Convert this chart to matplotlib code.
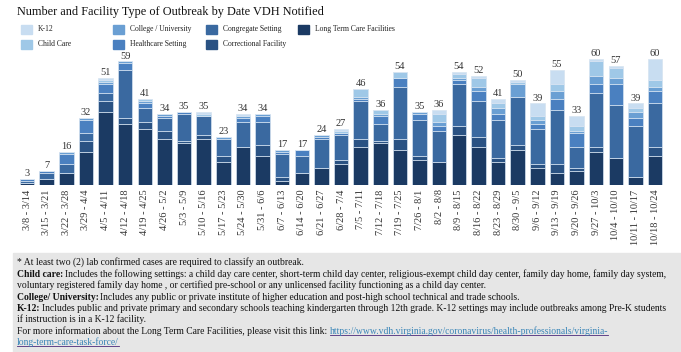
import matplotlib
import numpy as np
from matplotlib import pyplot as plt
from matplotlib.patches import Rectangle
from matplotlib.lines import Line2D

matplotlib.use("Agg")

plt.rcParams["font.family"] = ["Liberation Serif", "DejaVu Serif"]

weeks = [
    "3/8 - 3/14", "3/15 - 3/21", "3/22 - 3/28", "3/29 - 4/4", "4/5 - 4/11",
    "4/12 - 4/18", "4/19 - 4/25", "4/26 - 5/2", "5/3 - 5/9", "5/10 - 5/16",
    "5/17 - 5/23", "5/24 - 5/30", "5/31 - 6/6", "6/7 - 6/13", "6/14 - 6/20",
    "6/21 - 6/27", "6/28 - 7/4", "7/5 - 7/11", "7/12 - 7/18", "7/19 - 7/25",
    "7/26 - 8/1", "8/2 - 8/8", "8/9 - 8/15", "8/16 - 8/22", "8/23 - 8/29",
    "8/30 - 9/5", "9/6 - 9/12", "9/13 - 9/19", "9/20 - 9/26", "9/27 - 10/3",
    "10/4 - 10/10", "10/11 - 10/17", "10/18 - 10/24",
]

# stacked bottom -> top
long_term_care = [1, 3, 6, 16, 35, 29, 27, 22, 20, 22, 11, 18, 14, 2, 6, 8, 10, 18, 20, 17, 12, 11, 24, 18, 11, 17, 8, 6, 7, 16, 13, 4, 14]
correctional = [0, 0, 0, 5, 5, 3, 3, 4, 1, 2, 3, 0, 5, 2, 0, 0, 2, 4, 1, 5, 2, 0, 4, 5, 2, 2, 2, 4, 1, 2, 0, 0, 4]
congregate = [1, 3, 4, 4, 4, 23, 7, 6, 13, 9, 8, 12, 11, 11, 8, 14, 12, 18, 8, 25, 17, 15, 20, 17, 18, 23, 17, 26, 10, 26, 25, 24, 21]
healthcare = [1, 1, 5, 6, 4, 3, 2, 1, 1, 0, 0, 2, 3, 1, 3, 1, 1, 1, 4, 4, 3, 2, 2, 5, 3, 0, 2, 5, 7, 4, 10, 4, 6]
college = [0, 0, 1, 1, 1, 1, 1, 1, 0, 0, 1, 1, 1, 1, 0, 1, 0, 1, 1, 0, 1, 2, 1, 2, 3, 6, 2, 4, 1, 4, 3, 3, 2]
child_care = [0, 0, 0, 0, 1, 0, 1, 0, 0, 1, 0, 0, 0, 0, 0, 0, 1, 4, 2, 3, 0, 4, 2, 4, 2, 1, 2, 3, 2, 7, 5, 2, 3]
k12 = [0, 0, 0, 0, 1, 0, 0, 0, 0, 1, 0, 1, 0, 0, 0, 0, 1, 0, 0, 0, 0, 2, 1, 1, 2, 1, 6, 7, 5, 1, 1, 2, 10]

series = [
    ("Long Term Care Facilities", long_term_care, "#1b3a63"),
    ("Correctional Facility", correctional, "#2a5283"),
    ("Congregate Setting", congregate, "#3a69a0"),
    ("Healthcare Setting", healthcare, "#4a80c0"),
    ("College / University", college, "#6a9fd3"),
    ("Child Care", child_care, "#9fc8e7"),
    ("K-12", k12, "#c8ddf1"),
]

fig = plt.figure(figsize=(6.81, 3.52), dpi=100)
ax = fig.add_axes([0.0253, 0.4736, 0.951, 0.370])

x = np.arange(len(weeks))
bottom = np.zeros(len(weeks))
for name, vals, col in series:
    ax.bar(x, vals, bottom=bottom, width=0.74, color=col,
           edgecolor="#d6e3f1", linewidth=0.5)
    bottom += np.array(vals)

for xi, tot in zip(x, bottom):
    ax.text(xi, tot + 0.4, f"{int(tot)}", ha="center", va="bottom",
            fontsize=7.5, color="#333333")

ax.set_xlim(-0.5, len(weeks) - 0.5)
ax.set_ylim(0, 62)
ax.set_xticks(x)
ax.set_xticklabels(weeks, rotation=90, fontsize=7.5, color="#333333")
ax.tick_params(axis="x", length=0, pad=3)
ax.set_yticks([])
for s in ax.spines.values():
    s.set_visible(False)

# title
fig.text(17 / 681, 1 - 12.5 / 352, "Number and Facility Type of Outbreak by Date VDH Notified",
         fontsize=8.8, va="center", ha="left", color="#111111")

# legend laid out in fixed columns like the original
legend_order = [
    ("K-12", 0, 0), ("Child Care", 0, 1),
    ("College / University", 1, 0), ("Healthcare Setting", 1, 1),
    ("Congregate Setting", 2, 0), ("Correctional Facility", 2, 1),
    ("Long Term Care Facilities", 3, 0),
]
colors = {name: col for name, _, col in series}
for name, c, r in legend_order:
    px = 21 + c * 92.3
    py = 29 + r * 15.5
    fig.add_artist(Rectangle((px / 681, 1 - (py + 4.5) / 352), 11 / 681, 9 / 352,
                             transform=fig.transFigure, color=colors[name]))
    fig.text((px + 17) / 681, 1 - py / 352, name, fontsize=5.5, va="center",
             ha="left", color="#222222")

# footnote box
fig.add_artist(Rectangle((13 / 681, 0), 668 / 681, 99 / 352,
                         transform=fig.transFigure, color="#e6e6e6", zorder=0))

fs = 6.92
renderer = fig.canvas.get_renderer()


def line(y, bold, rest, color="#111111"):
    xx = 17 / 681
    yy = 1 - y / 352
    if bold:
        t = fig.text(xx, yy, bold, fontsize=fs, fontweight="bold", va="baseline",
                     ha="left", color="#111111")
        bb = t.get_window_extent(renderer)
        xx = bb.x1 / fig.bbox.width + 1.5 / 681
    t = fig.text(xx, yy, rest, fontsize=fs, va="baseline", ha="left", color=color)
    return t


line(265, "", "* At least two (2) lab confirmed cases are required to classify an outbreak.")
line(277, "Child care:", "Includes the following settings: a child day care center, short-term child day center, religious-exempt child day center, family day home, family day system,")
line(288, "", "voluntary registered family day home , or certified pre-school or any unlicensed facility functioning as a child day center.")
line(300, "College/ University:", "Includes any public or private institute of higher education and post-high school technical and trade schools.")
line(311, "K-12:", "Includes public and private primary and secondary schools teaching kindergarten through 12th grade. K-12 settings may include outbreaks among Pre-K students")
line(322, "", "if instruction is in a K-12 facility.")
t0 = line(334, "", "For more information about the Long Term Care Facilities, please visit this link: ")
bb0 = t0.get_window_extent(renderer)
link1 = fig.text(bb0.x1 / fig.bbox.width, 1 - 334 / 352,
                 "https://www.vdh.virginia.gov/coronavirus/health-professionals/virginia-",
                 fontsize=fs, va="baseline", ha="left", color="#3a86b8")
link2 = line(345, "", "long-term-care-task-force/", color="#3a86b8")
for lk in (link1, link2):
    b = lk.get_window_extent(renderer)
    yl = b.y0 + 1.2
    fig.add_artist(Line2D([b.x0 / fig.bbox.width, b.x1 / fig.bbox.width],
                          [yl / fig.bbox.height, yl / fig.bbox.height],
                          transform=fig.transFigure, color="#4b2a7a", lw=0.6))

fig.savefig("out.png", dpi=100, facecolor="white")
